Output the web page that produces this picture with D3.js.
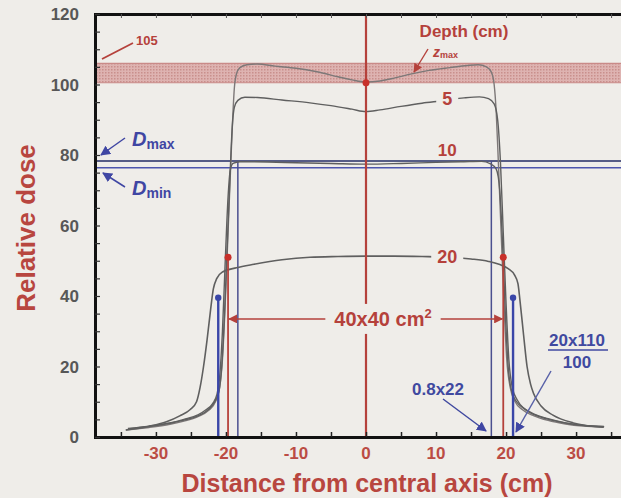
<!DOCTYPE html>
<html><head><meta charset="utf-8">
<script src="https://cdn.jsdelivr.net/npm/d3@7"></script>
<style>
html,body{margin:0;padding:0;background:#efede9;overflow:hidden}
svg{display:block;font-family:"Liberation Sans",Arial,sans-serif}
</style>
</head><body>
<svg id="c" width="621" height="498"></svg>
<script>
// ---------- data ----------
const xTicks = [-30, -20, -10, 0, 10, 20, 30];
const yTicks = [0, 20, 40, 60, 80, 100, 120];
const depthLabels = ["zmax", "5", "10", "20"];

const profZmax = [[-34.3,2.0],[-31,2.7],[-28,3.6],[-26,4.5],[-24,5.8],[-22.5,7.5],[-21.5,10],[-20.9,14],[-20.5,22],[-20.1,38],[-19.7,58],[-19.3,78],[-19.0,92],[-18.8,99],[-18.5,103],[-18.0,104.8],[-17,105.6],[-15.5,105.8],[-13,105.2],[-10,104.6],[-7,103.6],[-4,102.2],[-2,101.3],[0,100.7],[2,101.0],[4,101.8],[6,102.8],[9,104],[12,104.8],[14.5,105.4],[16,105.6],[17.2,105.0],[17.9,103.5],[18.3,100],[18.6,92],[18.9,78],[19.3,58],[19.7,38],[20.1,22],[20.6,14],[21.3,10],[22.3,7.8],[24,6],[26,4.7],[28.5,3.7],[31,3.1],[34,2.8]];

const prof5 = [[-34,2.3],[-31,3.0],[-28,3.9],[-26,4.8],[-24,6.0],[-22.5,7.8],[-21.6,10],[-21,13],[-20.6,20],[-20.2,35],[-19.8,55],[-19.4,75],[-19.1,88],[-18.8,93.5],[-18.3,95.5],[-17.3,96.4],[-15.5,96.3],[-12,95.6],[-8,94.8],[-5,94],[-2,93],[0,92.3],[2,92.8],[5,93.8],[8,94.7],[11,95.4],[14,96.2],[16.2,96.5],[17.5,96],[18.3,94.5],[18.8,90],[19.2,78],[19.6,58],[20,38],[20.4,22],[20.9,14],[21.6,10.5],[22.6,8],[24.2,6.2],[26.5,4.8],[29,3.8],[31.5,3.2],[34,2.9]];

const prof10 = [[-34,2.4],[-31,3.1],[-28,4.0],[-26,5],[-24,6.3],[-22.8,7.8],[-21.9,9.5],[-21.3,12],[-20.9,17],[-20.5,30],[-20.1,50],[-19.7,68],[-19.4,75.5],[-19.0,77.6],[-18,78.1],[-14,78.0],[-10,77.8],[-5,77.6],[0,77.4],[5,77.6],[10,77.9],[14,78.1],[16.5,78.2],[17.8,77.5],[18.6,76],[19.1,70],[19.5,55],[19.9,35],[20.3,20],[20.8,13],[21.5,10],[22.5,8.2],[24,6.5],[26,5.2],[28.5,4],[31,3.3],[34,3.0]];

const prof20 = [[-34.3,2.0],[-31,3.0],[-28.5,4.3],[-26.6,6.0],[-25.1,7.8],[-24.2,10],[-23.7,14],[-23.2,20],[-22.7,27.5],[-22.2,36],[-21.8,42],[-21.3,45],[-20.5,46.8],[-18.5,48],[-16,49],[-12,50.3],[-8,51],[-4,51.2],[0,51.3],[4,51.3],[8,51.2],[12,51],[15,50.5],[17.5,49.8],[19,49],[20.3,47.8],[21.2,46],[21.7,43.5],[22,38.5],[22.5,29],[23,20],[23.5,15],[23.9,12.5],[25,8.8],[26.7,6.2],[29.6,4],[33.9,2.8]];

const profiles = [profZmax, prof5, prof10, prof20];

const band = [100.5, 106];          // 100–105 % region
const dMax = 78.3, dMin = 76.4;
const fieldEdges = [-19.7, 19.6], edgeDose = 51;
const innerBlue = [-18.3, 17.9];
const outerBlue = [-21.1, 21.0], outerDose = 39.5;
const fieldArrowDose = 33.5;
const centralDot = 100.5;

// ---------- layout ----------
const svg = d3.select("#c");
const x = d3.scaleLinear().domain([-38.7, 38.7]).range([95, 637]);
const y = d3.scaleLinear().domain([0, 120]).range([437, 14]);
const RED = "#b5413b", BLUE = "#3f46a3", GREY = "#5f5f5f", NAVY = "#4a4f8f";

const defs = svg.append("defs");
defs.append("clipPath").attr("id","plot").append("rect")
  .attr("x",95).attr("y",14).attr("width",542).attr("height",423);
const pat = defs.append("pattern").attr("id","dots").attr("patternUnits","userSpaceOnUse")
  .attr("width",3).attr("height",3);
pat.append("rect").attr("width",3).attr("height",3).attr("fill","#deb3b1");
pat.append("rect").attr("width",1.5).attr("height",1.5).attr("fill","#c98f8c");
function marker(id, color, size) {
  defs.append("marker").attr("id",id).attr("viewBox","0 0 10 10").attr("refX",9).attr("refY",5)
    .attr("markerWidth",size).attr("markerHeight",size).attr("orient","auto-start-reverse")
    .attr("markerUnits","userSpaceOnUse")
    .append("path").attr("d","M0,0 L10,5 L0,10 z").attr("fill",color);
}
marker("arRed", RED, 9);
marker("arBlue", BLUE, 10);

const g = svg.append("g").attr("clip-path","url(#plot)");

// band
g.append("rect").attr("x",95).attr("width",542)
  .attr("y",y(band[1])).attr("height",y(band[0])-y(band[1]))
  .attr("fill","url(#dots)");
g.selectAll("line.bandEdge").data(band).enter().append("line")
  .attr("x1",95).attr("x2",637).attr("y1",d=>y(d)).attr("y2",d=>y(d))
  .attr("stroke","#c98a88").attr("stroke-width",1.2);

// Dmax / Dmin horizontal lines
g.append("line").attr("x1",95).attr("x2",637).attr("y1",y(dMax)).attr("y2",y(dMax))
  .attr("stroke","#565c86").attr("stroke-width",2);
g.append("line").attr("x1",95).attr("x2",637).attr("y1",y(dMin)).attr("y2",y(dMin))
  .attr("stroke","#4d55ad").attr("stroke-width",1.6);

// inner blue verticals
g.selectAll("line.ib").data(innerBlue).enter().append("line")
  .attr("x1",d=>x(d)).attr("x2",d=>x(d)).attr("y1",y(dMax)).attr("y2",y(0))
  .attr("stroke",NAVY).attr("stroke-width",1.5);

// profiles
const line = d3.line().x(d=>x(d[0])).y(d=>y(d[1])).curve(d3.curveMonotoneX);
g.selectAll("path.prof").data(profiles).enter().append("path")
  .attr("d",line).attr("fill","none")
  .attr("stroke",(d,i)=> i===0 ? "#7d7878" : GREY)
  .attr("stroke-width",(d,i)=> i===3 ? 1.6 : 1.4);

// outer blue verticals (thick)
g.selectAll("line.ob").data(outerBlue).enter().append("line")
  .attr("x1",d=>x(d)).attr("x2",d=>x(d)).attr("y1",y(outerDose)).attr("y2",y(0))
  .attr("stroke","#3a46a8").attr("stroke-width",2.4);
g.selectAll("circle.ob").data(outerBlue).enter().append("circle")
  .attr("cx",d=>x(d)).attr("cy",y(outerDose)).attr("r",3.2).attr("fill","#3a46a8");

// red field edges
g.selectAll("line.fe").data(fieldEdges).enter().append("line")
  .attr("x1",d=>x(d)).attr("x2",d=>x(d)).attr("y1",y(edgeDose)).attr("y2",y(0))
  .attr("stroke",RED).attr("stroke-width",1.8);
g.selectAll("circle.fe").data(fieldEdges).enter().append("circle")
  .attr("cx",d=>x(d)).attr("cy",y(edgeDose)).attr("r",3.5).attr("fill","#c8302a");

// central axis
g.append("line").attr("x1",x(0)).attr("x2",x(0)).attr("y1",y(120)).attr("y2",y(0))
  .attr("stroke",RED).attr("stroke-width",2.2);
g.append("circle").attr("cx",x(0)).attr("cy",y(centralDot)).attr("r",3.5).attr("fill","#c8302a");

// 40x40 arrow
g.append("line").attr("x1",x(fieldEdges[0])+1).attr("x2",x(fieldEdges[1])-1)
  .attr("y1",y(fieldArrowDose)).attr("y2",y(fieldArrowDose))
  .attr("stroke",RED).attr("stroke-width",1.5)
  .attr("marker-start","url(#arRed)").attr("marker-end","url(#arRed)");

// label helper with background
const BG = "#efede9";
function label(parent, tx, ty, txt, opts) {
  const t = parent.append("text").attr("x",tx).attr("y",ty)
    .attr("text-anchor",opts.anchor||"middle")
    .attr("font-size",opts.size).attr("font-weight","bold")
    .attr("fill",opts.color).text(txt);
  if (opts.bg) {
    const b = t.node().getBBox();
    parent.insert("rect", () => t.node())
      .attr("x",b.x-(opts.padx||4)).attr("y",b.y+1).attr("width",b.width+2*(opts.padx||4)).attr("height",b.height-2)
      .attr("fill",BG);
  }
  return t;
}

// 40x40 cm² label
{
  const lg = g.append("g");
  const t = label(lg, 383, y(fieldArrowDose)+7, "40x40 cm", {size:20, color:RED, bg:false});
  t.append("tspan").attr("dy",-8).attr("font-size",13).text("2");
  const b = t.node().getBBox();
  lg.insert("rect", () => t.node()).attr("x",b.x-9).attr("y",b.y-2).attr("width",b.width+18).attr("height",b.height+6).attr("fill",BG);
}

// depth labels
label(g, x(11.6), y(95.8)+6, depthLabels[1], {size:18, color:RED, bg:true, padx:6});
label(g, x(11.6), 156, depthLabels[2], {size:17, color:RED});
label(g, x(11.6), y(51.1)+6, depthLabels[3], {size:18, color:RED, bg:true, padx:6});

// Depth (cm) and zmax
label(svg, 464, 37, "Depth (cm)", {size:17, color:RED});
{
  const t = svg.append("text").attr("x",433).attr("y",57).attr("fill",RED).attr("font-weight","bold");
  t.append("tspan").attr("font-size",14).attr("font-style","italic").text("z");
  t.append("tspan").attr("font-size",9).attr("dy",1).text("max");
}
svg.append("line").attr("x1",428).attr("y1",49).attr("x2",414).attr("y2",72)
  .attr("stroke",RED).attr("stroke-width",1.4).attr("marker-end","url(#arRed)");

// 105 label
svg.append("line").attr("x1",102).attr("y1",59).attr("x2",133).attr("y2",43)
  .attr("stroke",RED).attr("stroke-width",1.8);
label(svg, 136, 45, "105", {size:13, color:RED, anchor:"start"});

// Dmax / Dmin annotations
function dLabel(tx, ty, sub) {
  const t = svg.append("text").attr("x",tx).attr("y",ty).attr("fill",BLUE).attr("font-weight","bold");
  t.append("tspan").attr("font-size",20).attr("font-style","italic").text("D");
  t.append("tspan").attr("font-size",14).attr("dy",3).text(sub);
}
dLabel(132, 146, "max");
dLabel(132, 195, "min");
svg.append("line").attr("x1",125).attr("y1",138).attr("x2",101).attr("y2",155)
  .attr("stroke",BLUE).attr("stroke-width",1.5).attr("marker-end","url(#arBlue)");
svg.append("line").attr("x1",125).attr("y1",187).attr("x2",103).attr("y2",173)
  .attr("stroke",BLUE).attr("stroke-width",1.5).attr("marker-end","url(#arBlue)");

// 0.8x22 annotation
label(svg, 438, 395, "0.8x22", {size:17, color:"#4049a0", bg:true, padx:2});
svg.append("line").attr("x1",443).attr("y1",399).attr("x2",486).attr("y2",431)
  .attr("stroke","#4049a0").attr("stroke-width",1.5).attr("marker-end","url(#arBlue)");

// 20x110/100 annotation
label(svg, 577, 346, "20x110", {size:17, color:"#4049a0"});
svg.append("line").attr("x1",548).attr("x2",608).attr("y1",350).attr("y2",350)
  .attr("stroke","#4049a0").attr("stroke-width",1.6);
label(svg, 577, 368, "100", {size:17, color:"#4049a0"});
svg.append("line").attr("x1",551).attr("y1",371).attr("x2",516).attr("y2",432)
  .attr("stroke","#5861a8").attr("stroke-width",1.5).attr("marker-end","url(#arBlue)");

// ---------- axes ----------
const minorX = d3.range(-35, 40, 5);
const minorY = d3.range(0, 121, 5);
const xAxis = svg.append("g").attr("transform",`translate(0,${y(0)})`)
  .call(d3.axisBottom(x).tickValues(minorX).tickSize(-5).tickFormat(""));
xAxis.select(".domain").attr("stroke","#111").attr("stroke-width",3);
xAxis.selectAll(".tick line").attr("stroke","#222").attr("stroke-width",1.5);

const topAxis = svg.append("g").attr("transform",`translate(0,${y(120)})`)
  .call(d3.axisTop(x).tickValues(minorX).tickSize(-4).tickFormat(""));
topAxis.select(".domain").attr("stroke","#111").attr("stroke-width",3);
topAxis.selectAll(".tick line").attr("stroke","#555").attr("stroke-width",1);

const yAxis = svg.append("g").attr("transform",`translate(${x.range()[0]},0)`)
  .call(d3.axisLeft(y).tickValues(minorY).tickSize(-5).tickFormat(""));
yAxis.select(".domain").attr("stroke","#111").attr("stroke-width",3);
yAxis.selectAll(".tick line").attr("stroke","#333").attr("stroke-width",1.2);

// tick labels
svg.append("g").selectAll("text").data(xTicks).enter().append("text")
  .attr("x",d=>x(d)).attr("y",459).attr("text-anchor","middle")
  .attr("font-size",17).attr("font-weight","bold").attr("fill","#bb4c44").text(d=>d);
svg.append("g").selectAll("text").data(yTicks).enter().append("text")
  .attr("x",79).attr("y",d=>y(d)+6).attr("text-anchor","end")
  .attr("font-size",17).attr("font-weight","bold").attr("fill","#575757").text(d=>d);

// titles
svg.append("text").attr("x",367).attr("y",492).attr("text-anchor","middle")
  .attr("font-size",25).attr("font-weight","bold").attr("fill","#b8463f")
  .text("Distance from central axis (cm)");
svg.append("text").attr("transform","translate(35,228) rotate(-90)").attr("text-anchor","middle")
  .attr("font-size",26).attr("font-weight","bold").attr("fill","#b8463f")
  .text("Relative dose");
</script>
</body></html>
